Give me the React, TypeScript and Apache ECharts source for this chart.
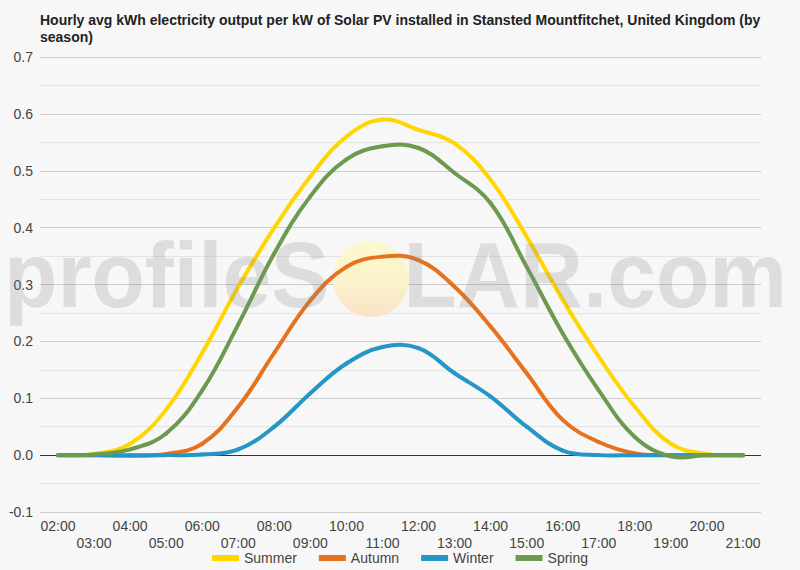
import React, { useEffect, useRef } from "react";
import * as echarts from "echarts";

const TITLE =
  "Hourly avg kWh electricity output per kW of Solar PV installed in Stansted Mountfitchet, United Kingdom (by\nseason)";

const hours = [
  "02:00", "03:00", "04:00", "05:00", "06:00", "07:00", "08:00", "09:00", "10:00", "11:00",
  "12:00", "13:00", "14:00", "15:00", "16:00", "17:00", "18:00", "19:00", "20:00", "21:00",
];

const summer = [0, 0.002, 0.02, 0.08, 0.18, 0.296, 0.4, 0.49, 0.56, 0.59, 0.572, 0.548, 0.484, 0.384, 0.273, 0.173, 0.085, 0.02, 0.002, 0];
const autumn = [0, 0, -0.001, 0.002, 0.02, 0.085, 0.18, 0.272, 0.331, 0.349, 0.343, 0.296, 0.226, 0.144, 0.062, 0.023, 0.003, 0, 0, 0];
const winter = [0, 0, 0, 0, 0.001, 0.01, 0.05, 0.109, 0.161, 0.19, 0.188, 0.144, 0.103, 0.05, 0.008, 0, 0, 0, 0, 0];
const spring = [0, 0.001, 0.01, 0.038, 0.114, 0.23, 0.355, 0.455, 0.52, 0.543, 0.54, 0.496, 0.443, 0.331, 0.214, 0.114, 0.032, -0.002, 0, 0];

const seriesNames = ["Summer", "Autumn", "Winter", "Spring"];
const seriesColors = ["#FFD600", "#E6721F", "#2596C6", "#6C9A50"];
const seriesData = [summer, autumn, winter, spring];

const yTicks = { min: -0.1, max: 0.7, interval: 0.1 };

const TENSION = 0.4;

type P = number[];
function spline(prev: P, cur: P, next: P, t: number) {
  const d01 = Math.hypot(cur[0] - prev[0], cur[1] - prev[1]);
  const d12 = Math.hypot(next[0] - cur[0], next[1] - cur[1]);
  const sum = d01 + d12;
  const s01 = sum ? d01 / sum : 0;
  const s12 = sum ? d12 / sum : 0;
  const fa = t * s01;
  const fb = t * s12;
  return {
    prev: [cur[0] - fa * (next[0] - prev[0]), cur[1] - fa * (next[1] - prev[1])],
    next: [cur[0] + fb * (next[0] - prev[0]), cur[1] + fb * (next[1] - prev[1])],
  };
}

function makeRenderItem(values: number[], color: string) {
  return (params: any, api: any) => {
    const j = params.dataIndex;
    const n = values.length;
    if (j >= n - 1) return null;
    const pt = (k: number) => {
      const kk = Math.max(0, Math.min(n - 1, k));
      return api.coord([kk, values[kk]]);
    };
    const p0 = pt(j - 1);
    const p1 = pt(j);
    const p2 = pt(j + 1);
    const p3 = pt(j + 2);
    const a = spline(p0, p1, p2, TENSION);
    const b = spline(p1, p2, p3, TENSION);
    return {
      type: "bezierCurve",
      shape: {
        x1: p1[0], y1: p1[1],
        x2: p2[0], y2: p2[1],
        cpx1: a.next[0], cpy1: a.next[1],
        cpx2: b.prev[0], cpy2: b.prev[1],
      },
      style: { stroke: color, lineWidth: 4, fill: null, lineCap: "round" },
    };
  };
}

export default function App() {
  const ref = useRef<HTMLDivElement>(null);
  useEffect(() => {
    document.body.style.margin = "0";
    document.body.style.background = "#f7f7f7";
    const chart = echarts.init(ref.current!, null, { renderer: "svg" });
    const splitColors = ["#cccccc", "#333333", "#cccccc", "#cccccc", "#cccccc", "#cccccc", "#cccccc", "#cccccc", "#cccccc"];
    const wmStyle = {
      fontFamily: "Arial, Liberation Sans, sans-serif",
      fontWeight: "bold",
      fontSize: 92,
      fill: "rgba(140,140,140,0.24)",
      verticalAlign: "top",
    };
    chart.setOption({
      animation: false,
      backgroundColor: "#f7f7f7",
      title: {
        text: TITLE,
        left: 35,
        top: 6,
        textStyle: {
          fontFamily: "Arial, Liberation Sans, sans-serif",
          fontSize: 14,
          fontWeight: "bold",
          color: "#222",
          lineHeight: 17,
        },
      },
      grid: { left: 40, right: 39, top: 57, bottom: 58 },
      legend: {
        data: seriesNames,
        top: 546,
        left: "center",
        icon: "rect",
        itemWidth: 27,
        itemHeight: 6,
        itemGap: 22,
        textStyle: { fontFamily: "Arial, Liberation Sans, sans-serif", fontSize: 14, color: "#444" },
      },
      xAxis: {
        type: "category",
        data: hours,
        boundaryGap: true,
        axisLine: { show: false },
        axisTick: { show: false },
        axisLabel: {
          interval: 0,
          margin: 5,
          lineHeight: 17,
          fontFamily: "Arial, Liberation Sans, sans-serif",
          fontSize: 14,
          color: "#444",
          formatter: (v: string, i: number) => (i % 2 === 1 ? "\n" + v : v),
        },
      },
      yAxis: {
        type: "value",
        min: yTicks.min,
        max: yTicks.max,
        interval: yTicks.interval,
        axisLine: { show: false },
        axisTick: { show: false },
        axisLabel: {
          margin: 7,
          fontFamily: "Arial, Liberation Sans, sans-serif",
          fontSize: 14,
          color: "#444",
          formatter: (v: number) => v.toFixed(1),
        },
        splitLine: { show: true, lineStyle: { color: splitColors, width: 1 } },
        minorTick: { show: false, splitNumber: 2 },
        minorSplitLine: { show: true, lineStyle: { color: "#e4e4e4", width: 1 } },
      },
      graphic: [
        {
          type: "circle",
          z: 1,
          silent: true,
          shape: { cx: 371, cy: 279, r: 38 },
          style: {
            fill: new echarts.graphic.LinearGradient(0, 0, 0, 1, [
              { offset: 0, color: "#fcf8cc" },
              { offset: 0.5, color: "#fbf3c8" },
              { offset: 1, color: "#f8e2c4" },
            ]),
            opacity: 0.95,
          },
        },
        {
          type: "text", z: 100, silent: true, x: 4, y: 229, scaleX: 0.95,
          style: { text: "profileS", x: 0, y: 0, align: "left", ...wmStyle },
        },
        {
          type: "text", z: 100, silent: true, x: 787, y: 229, scaleX: 0.95,
          style: { text: "LAR.com", x: 0, y: 0, align: "right", ...wmStyle },
        },
      ],
      series: seriesNames.map((name, i) => ({
        name,
        type: "custom",
        data: seriesData[i].map((v, j) => [j, v]),
        encode: { x: 0, y: 1 },
        renderItem: makeRenderItem(seriesData[i], seriesColors[i]),
        color: seriesColors[i],
        itemStyle: { color: seriesColors[i] },
        clip: false,
        z: 2,
      })),
    });
    return () => chart.dispose();
  }, []);
  return <div ref={ref} style={{ width: 800, height: 570 }} />;
}
